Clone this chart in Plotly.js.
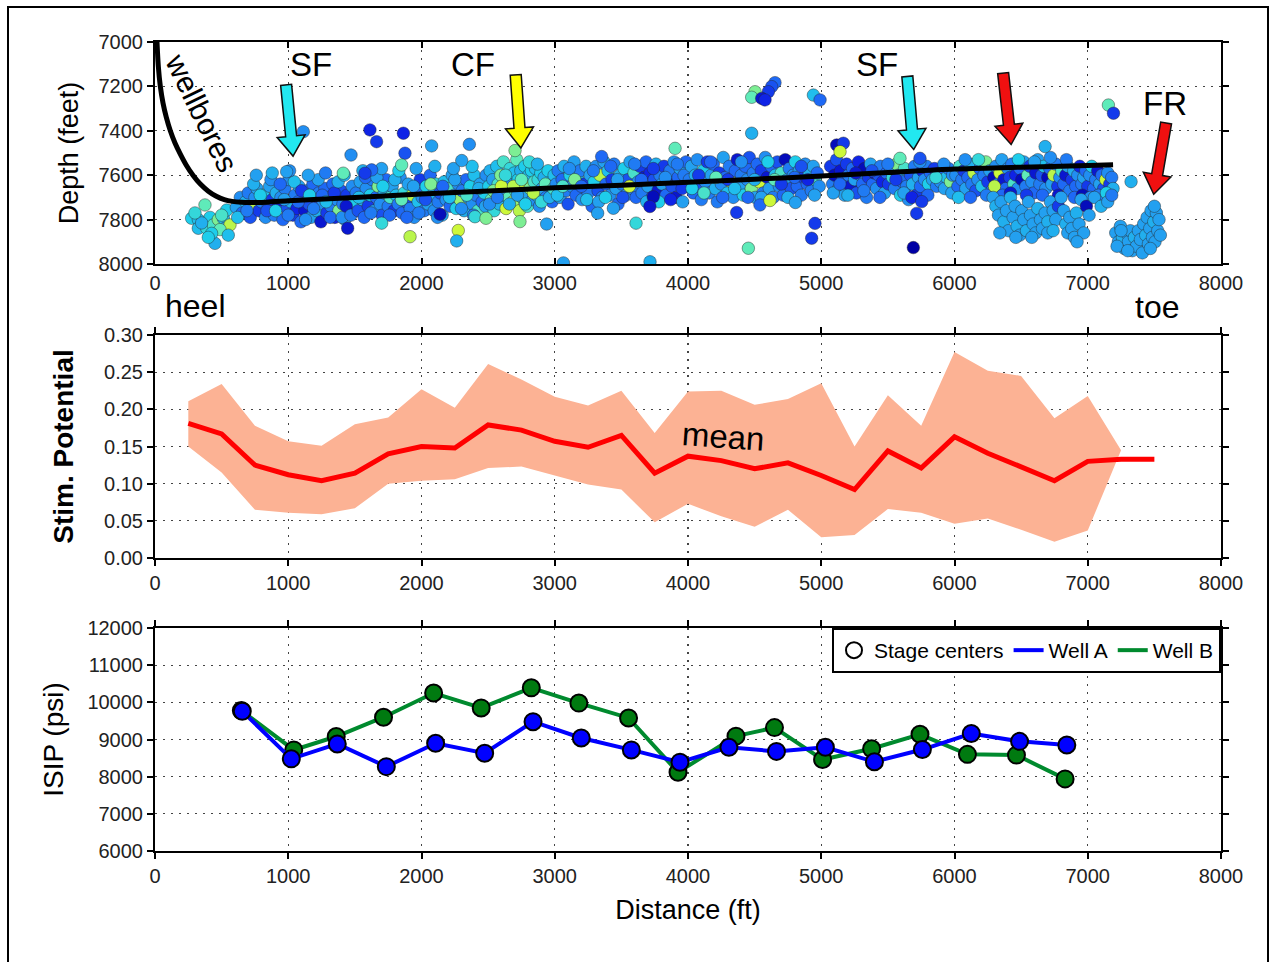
<!DOCTYPE html>
<html><head><meta charset="utf-8">
<script src="https://cdn.plot.ly/plotly-3.0.1.min.js"></script>
<style>html,body{margin:0;padding:0;background:#fff}#chart{width:1276px;height:962px}</style>
</head><body><div id="chart"></div>
<script>
// ---------- Top panel: microseismic events [distance ft, depth ft, colour value] ----------
const heelEvents = [[275,7794,.6],[325,7800,.55],[375,7734,.75],[413,7790,.6],[325,7839,.55],[388,7839,.65],[438,7824,.7],[475,7800,.8],[513,7794,.55],[525,7839,.45],[450,7907,.5],[563,7824,.9],[488,7845,.75],[425,7862,.6],[538,7757,.6],[500,7780,.7],[350,7815,.5],[400,7880,.6],[550,7870,.55],[300,7770,.65]];
const band1Events = [[610,7745,.45],[640,7700,.4],[655,7770,.3],[680,7720,.5],[700,7680,.35],[715,7790,.25],[730,7740,.9],[750,7700,.4],[765,7660,.45],[780,7760,.2],[800,7720,.35],[815,7690,.55],[830,7790,.4],[850,7740,.3],[860,7650,.45],[880,7710,.2],[895,7780,.35],[910,7680,.5],[925,7740,.1],[945,7700,.4],[960,7800,.3],[975,7660,.35],[990,7750,.25],[1005,7620,.4],[1020,7720,.5],[1035,7780,.2],[1050,7690,.35],[1065,7750,.15],[1080,7650,.45],[1095,7810,.3],[1110,7710,.4],[1125,7760,.1],[1140,7670,.35],[1155,7730,.25],[1170,7790,.45],[1185,7640,.3],[1200,7700,.2],[1215,7760,.5],[1230,7680,.35],[1245,7810,.1],[1260,7730,.4],[1275,7660,.3],[1290,7770,.2],[1305,7700,.45],[1320,7740,.35],[1335,7640,.3],[1350,7790,.15],[1365,7710,.4],[1380,7760,.8],[1395,7670,.25],[1410,7730,.35],[1425,7800,.45],[1440,7690,.2],[1460,7750,.3],[1480,7650,.4],[1495,7720,.6],
 [620,7790,.55],[690,7760,.35],[740,7640,.5],[790,7690,.6],[840,7760,.25],[870,7620,.4],[905,7760,.6],[940,7640,.3],[970,7710,.45],[1000,7780,.35],[1045,7630,.55],[1075,7720,.3],[1100,7670,.2],[1130,7800,.4],[1160,7690,.6],[1190,7750,.35],[1225,7620,.45],[1255,7690,.3],[1285,7720,.55],[1315,7790,.3],[1345,7680,.2],[1375,7630,.5],[1405,7790,.4],[1435,7740,.1],[1470,7780,.35],
 [760,7600,.45],[880,7590,.5],[1010,7580,.4],[1150,7600,.45],[1280,7590,.35],[1420,7600,.5]];
const band2Events = [[1510,7680,.35],[1525,7760,.25],[1540,7630,.45],[1555,7710,.5],[1570,7790,.3],[1585,7660,.4],[1600,7740,.2],[1615,7690,.6],[1630,7620,.35],[1645,7760,.45],[1660,7700,.3],[1675,7650,.8],[1690,7730,.4],[1705,7780,.25],[1720,7680,.5],[1735,7620,.3],[1750,7740,.35],[1765,7700,.7],[1780,7650,.45],[1795,7760,.2],[1810,7690,.55],[1825,7730,.35],[1840,7610,.4],[1855,7770,.3],[1870,7680,.65],[1885,7720,.25],[1900,7640,.45],[1915,7750,.35],[1930,7690,.9],[1945,7790,.4],[1960,7660,.3],[1975,7720,.55],[1990,7620,.2],[2005,7700,.4],[2020,7760,.35],[2035,7650,.6],[2050,7730,.45],[2065,7600,.3],[2080,7690,.5],[2095,7760,.4],[2110,7640,.65],[2125,7720,.35],[2140,7680,.25],[2155,7780,.45],[2170,7630,.55],[2185,7710,.4],[2200,7660,.7],[2215,7740,.3],[2230,7600,.45],[2245,7690,.35],[2260,7750,.6],[2275,7640,.4],[2290,7710,.85],[2305,7670,.35],[2320,7760,.5],[2335,7620,.3],[2350,7700,.45],[2365,7650,.6],[2380,7730,.4],[2395,7600,.55],[2410,7690,.35],[2425,7760,.7],[2440,7640,.45],[2455,7720,.3],[2470,7680,.6],[2485,7600,.4],
 [1530,7700,.55],[1580,7610,.3],[1620,7770,.35],[1665,7610,.45],[1710,7650,.6],[1760,7780,.3],[1800,7620,.5],[1850,7710,.75],[1890,7790,.3],[1940,7650,.45],[1980,7770,.35],[2030,7710,.25],[2070,7640,.8],[2120,7790,.4],[2160,7650,.3],[2210,7700,.55],[2250,7620,.45],[2300,7750,.4],[2340,7690,.7],[2390,7780,.35],[2430,7660,.5],[2480,7740,.45],
 [1560,7580,.5],[1700,7570,.45],[1830,7580,.6],[1960,7570,.45],[2100,7560,.5],[2240,7570,.45],[2380,7560,.55]];
const cfEvents = [[2505,7650,.6],[2515,7580,.5],[2525,7710,.75],[2535,7620,.45],[2545,7760,.65],[2555,7680,.9],[2565,7560,.55],[2575,7640,.7],[2585,7730,.5],[2595,7600,.8],[2605,7690,.6],[2615,7540,.7],[2625,7660,.45],[2635,7750,.95],[2645,7610,.6],[2655,7700,.75],[2665,7570,.65],[2675,7640,.4],[2685,7720,.85],[2695,7590,.55],[2705,7670,.7],[2715,7530,.75],[2725,7620,.6],[2735,7760,.9],[2745,7580,.5],[2755,7700,.65],[2765,7640,.95],[2775,7560,.6],[2785,7680,.45],[2795,7740,.7],[2805,7600,.55],[2815,7660,.8],[2825,7580,.6],[2835,7710,.4],[2845,7630,.7],[2855,7570,.55],[2865,7690,.5],[2875,7620,.65],[2885,7740,.4],[2895,7590,.6],[2905,7660,.45],[2920,7610,.5],[2935,7700,.35],[2950,7580,.6],[2965,7650,.4],[2980,7720,.3],[2995,7600,.55],
 [2510,7730,.4],[2540,7670,.8],[2570,7700,.35],[2600,7650,.95],[2630,7600,.65],[2660,7730,.5],[2690,7650,.9],[2720,7690,.45],[2750,7620,.75],[2780,7730,.6],[2810,7540,.65],[2840,7680,.9],[2870,7550,.5],[2900,7720,.65],[2930,7640,.75],[2960,7700,.5],[2990,7660,.7]];
const band3Events = [[3010,7640,.4],[3025,7580,.35],[3040,7700,.45],[3055,7620,.3],[3070,7560,.5],[3085,7670,.35],[3100,7730,.25],[3115,7600,.6],[3130,7650,.4],[3145,7540,.45],[3160,7690,.3],[3175,7620,.55],[3190,7580,.35],[3205,7710,.4],[3220,7640,.2],[3235,7560,.5],[3250,7680,.35],[3265,7600,.45],[3280,7740,.3],[3295,7630,.6],[3310,7560,.4],[3325,7670,.25],[3340,7600,.9],[3355,7700,.35],[3370,7540,.45],[3385,7640,.3],[3400,7580,.55],[3415,7690,.4],[3430,7620,.2],[3445,7550,.35],[3460,7660,.45],[3475,7730,.3],[3490,7600,.5],[3505,7640,.35],[3520,7570,.6],[3535,7690,.4],[3550,7620,.25],[3565,7540,.45],[3580,7660,.35],[3595,7590,.7],[3610,7700,.3],[3625,7630,.4],[3640,7560,.2],[3655,7680,.35],[3670,7610,.1],[3685,7540,.3],[3700,7650,.45],[3715,7590,.15],[3730,7700,.35],[3745,7620,.25],[3760,7550,.5],[3775,7670,.1],[3790,7600,.35],[3805,7640,.45],[3820,7560,.2],[3835,7690,.3],[3850,7620,.05],[3865,7580,.35],[3880,7650,.25],[3895,7540,.4],[3910,7700,.1],[3925,7610,.3],[3940,7570,.45],[3955,7660,.2],[3970,7600,.35],[3985,7540,.3],
 [3020,7690,.55],[3060,7650,.7],[3110,7570,.4],[3150,7620,.8],[3200,7650,.3],[3240,7710,.55],[3290,7580,.35],[3330,7720,.45],[3380,7700,.6],[3420,7560,.3],[3470,7620,.45],[3510,7700,.25],[3560,7650,.95],[3600,7550,.35],[3650,7620,.3],[3690,7720,.5],[3740,7570,.2],[3780,7720,.6],[3830,7610,.4],[3870,7710,.15],[3920,7550,.35],[3960,7720,.45]];
const band4Events = [[4010,7620,.35],[4025,7560,.45],[4040,7680,.3],[4055,7600,.5],[4070,7530,.4],[4085,7650,.25],[4100,7710,.35],[4115,7580,.6],[4130,7630,.4],[4145,7540,.2],[4160,7680,.35],[4175,7600,.45],[4190,7550,.3],[4205,7660,.5],[4220,7720,.35],[4235,7590,.2],[4250,7640,.4],[4265,7520,.45],[4280,7610,.3],[4295,7680,.55],[4310,7560,.35],[4325,7630,.9],[4340,7700,.4],[4355,7580,.3],[4370,7530,.1],[4385,7650,.45],[4400,7600,.35],[4415,7690,.6],[4430,7560,.3],[4445,7620,.4],[4460,7520,.25],[4475,7660,.8],[4490,7590,.35],[4505,7700,.45],[4520,7550,.3],[4535,7630,.95],[4550,7580,.2],[4565,7680,.35],[4580,7520,.4],[4595,7610,.1],[4610,7660,.45],[4625,7560,.3],[4640,7700,.35],[4655,7600,.55],[4670,7540,.25],[4685,7650,.4],[4700,7590,.7],[4715,7690,.3],[4730,7530,.05],[4745,7620,.45],[4760,7570,.35],[4775,7660,.25],[4790,7600,.4],[4805,7540,.6],[4820,7650,.3],[4835,7580,.45],[4850,7690,.35],[4865,7610,.2],[4880,7550,.4],[4895,7640,.3],[4910,7590,.5],[4925,7670,.35],[4940,7560,.45],[4955,7620,.7],[4970,7590,.3],[4985,7650,.4],
 [4030,7660,.6],[4080,7600,.2],[4120,7680,.7],[4170,7540,.3],[4210,7610,.75],[4260,7700,.3],[4300,7620,.2],[4350,7660,.55],[4400,7540,.4],[4450,7700,.3],[4500,7620,.5],[4550,7700,.45],[4600,7540,.6],[4650,7620,.75],[4700,7640,.2],[4750,7700,.5],[4800,7610,.3],[4850,7560,.25],[4900,7620,.15],[4950,7690,.45]];
const band5Events = [[5070,7560,.2],[5085,7640,.35],[5100,7600,.05],[5115,7530,.25],[5130,7660,.4],[5145,7580,.1],[5160,7620,.3],[5175,7690,.45],[5190,7550,.2],[5205,7600,.35],[5220,7650,.1],[5235,7570,.3],[5250,7620,.45],[5265,7680,.25],[5280,7540,.15],[5295,7600,.4],[5310,7640,.3],[5325,7570,.05],[5340,7700,.35],[5355,7610,.2],[5370,7550,.45],[5385,7640,.3],[5400,7590,.1],[5415,7660,.4],[5430,7600,.25],[5445,7560,.35],[5460,7630,.15],[5475,7680,.45],[5490,7590,.3],[5505,7640,.2],[5520,7570,.4],[5535,7610,.65],[5550,7660,.35],[5565,7550,.8],[5580,7600,.45],[5595,7690,.6],[5610,7630,.3],[5625,7570,.7],[5640,7650,.35],[5655,7710,.4],[5670,7600,.25],[5685,7640,.5],[5700,7560,.35],[5715,7690,.2],[5730,7610,.45],[5745,7650,.3],[5760,7580,.15],[5775,7620,.4],[5790,7560,.35],[5805,7640,.6],[5820,7590,.3],[5835,7620,.45],[5850,7570,.2],[5865,7650,.35],[5880,7600,.5],[5895,7630,.4],[5910,7580,.3],[5925,7660,.45],[5940,7610,.55],[5955,7570,.35],[5970,7630,.8],[5985,7600,.4],
 [5090,7680,.45],[5140,7640,.3],[5200,7690,.5],[5260,7590,.1],[5320,7670,.35],[5380,7580,.25],[5440,7700,.3],[5500,7550,.35],[5560,7620,.2],[5620,7680,.45],[5680,7700,.15],[5740,7540,.4],[5800,7690,.3],[5860,7610,.65],[5920,7550,.4],[5980,7680,.45]];
const band6Events = [[6010,7600,.4],[6025,7650,.3],[6040,7560,.7],[6055,7620,.35],[6070,7580,.2],[6085,7660,.45],[6100,7610,.3],[6115,7550,.5],[6130,7640,.35],[6145,7590,.9],[6160,7670,.25],[6175,7620,.4],[6190,7570,.3],[6205,7650,.55],[6220,7600,.35],[6235,7540,.8],[6250,7630,.2],[6265,7580,.45],[6280,7670,.3],[6295,7610,.05],[6310,7560,.4],[6325,7640,.35],[6340,7590,.95],[6355,7530,.45],[6370,7620,.1],[6385,7660,.3],[6400,7570,.4],[6415,7610,.2],[6430,7550,.35],[6445,7640,.7],[6460,7600,.15],[6475,7660,.4],[6490,7570,.3],[6505,7620,.05],[6520,7540,.45],[6535,7650,.35],[6550,7600,.75],[6565,7560,.2],[6580,7630,.4],[6595,7680,.3],[6610,7590,.1],[6625,7530,.45],[6640,7640,.35],[6655,7600,.25],[6670,7560,.55],[6685,7660,.4],[6700,7610,.05],[6715,7570,.3],[6730,7640,.45],[6745,7600,.9],[6760,7550,.35],[6775,7650,.2],[6790,7610,.4],[6805,7580,.7],[6820,7640,.3],[6835,7600,.1],[6850,7560,.45],[6865,7670,.35],[6880,7620,.2],[6895,7580,.5],[6910,7650,.3],[6925,7600,.4],[6940,7560,.15],[6955,7640,.35],[6970,7610,.45],[6985,7580,.3],[7000,7650,.2],[7015,7600,.4],[7030,7560,.6],[7045,7660,.3],[7060,7620,.35],[7075,7580,.1],[7090,7640,.45],[7105,7600,.3],[7120,7660,.25],[7135,7620,.95],[7150,7590,.4],[7165,7640,.2],[7180,7610,.35],[7190,7660,.5],
 [6030,7700,.55],[6080,7530,.4],[6120,7700,.3],[6180,7530,.65],[6240,7690,.35],[6300,7650,.9],[6360,7690,.3],[6420,7680,.1],[6480,7530,.6],[6540,7690,.2],[6600,7540,.45],[6660,7690,.3],[6720,7520,.4],[6780,7690,.1],[6840,7530,.35],[6900,7700,.3],[6960,7690,.05],[7020,7700,.4],[7080,7690,.35],[7140,7680,.6]];
const deepEvents = [[6290,7700,.45],[6310,7740,.5],[6330,7780,.45],[6350,7720,.45],[6370,7810,.5],[6390,7760,.45],[6405,7850,.45],[6420,7700,.5],[6440,7790,.45],[6455,7740,.45],[6470,7830,.5],[6490,7870,.45],[6505,7760,.45],[6520,7800,.45],[6540,7850,.5],[6555,7720,.45],[6570,7780,.45],[6590,7820,.45],[6610,7860,.45],[6625,7750,.5],[6645,7800,.45],[6660,7840,.45],[6680,7770,.45],[6700,7810,.5],[6720,7720,.45],[6740,7760,.45],[6760,7800,.45],[6780,7740,.2],[6800,7700,.45],[6820,7760,.45],[6835,7820,.5],[6850,7860,.45],[6865,7790,.45],[6880,7840,.45],[6900,7880,.45],[6915,7770,.5],[6935,7820,.45],[6950,7710,.45],[6970,7860,.45],[6990,7740,.05],[7010,7780,.45],[7050,7700,.45],[7100,7740,.5],[7150,7720,.45],[7180,7690,.35],
 [6340,7860,.45],[6460,7880,.45],[6580,7880,.45],[6700,7860,.45],[6740,7850,.5],[6920,7900,.45]];
const toeEvents = [[7210,7860,.45],[7230,7900,.45],[7245,7830,.45],[7260,7880,.5],[7275,7930,.45],[7290,7860,.45],[7305,7900,.45],[7320,7850,.45],[7335,7940,.45],[7350,7880,.5],[7365,7920,.45],[7380,7850,.45],[7395,7890,.45],[7410,7950,.45],[7420,7820,.45],[7435,7870,.5],[7445,7790,.45],[7455,7910,.45],[7465,7840,.45],[7475,7760,.45],[7485,7880,.45],[7495,7810,.5],[7505,7900,.45],[7515,7770,.45],[7525,7850,.45],[7535,7800,.45],[7545,7870,.45],[7500,7740,.45],[7470,7930,.45],[7220,7920,.45],[7300,7940,.45],[7250,7850,.45]];
const outlierEvents = [[1113,7404,.4],[988,7584,.45],[1613,7396,.15],[1663,7449,.2],[1864,7411,.15],[1876,7501,.25],[1471,7509,.4],[1446,7839,.1],[1626,7576,.3],[1851,7554,.75],[1413,7591,.75],[1576,7591,.2],[1914,7877,.9],[1701,7816,.65],[2076,7468,.45],[2359,7461,.4],[2302,7534,.45],[2276,7849,.95],[2264,7896,.5],[2401,7787,.65],[2484,7794,.8],[2139,7776,.05],[2702,7489,.8],[2739,7809,.8],[2939,7820,.45],[3065,7995,.45],[3715,7990,.5],[3440,7749,.45],[3322,7771,.45],[3610,7816,.65],[3352,7516,.3],[3903,7479,.75],[3739,7697,.05],[3714,7741,.1],[4653,7183,.3],[4628,7201,.25],[4603,7224,.2],[4503,7224,.8],[4478,7249,.75],[4553,7254,.1],[4578,7261,.15],[4941,7239,.55],[4991,7261,.3],[4478,7411,.5],[4453,7929,.75],[4953,7817,.2],[4928,7884,.2],[4365,7768,.2],[4540,7734,.3],[4806,7723,.45],[4615,7714,.95],[5116,7464,.05],[5166,7456,.2],[5141,7494,.95],[5716,7772,.2],[5691,7926,0],[5754,7719,.2],[5741,7524,.25],[5591,7524,.75],[7155,7284,.75],[7193,7321,.2],[7325,7629,.5],[6680,7471,.5]];

// wellbore trajectory
const wellX = [15,25,40,60,85,115,150,190,235,285,340,400,460,520,580,650,720,800,1000,1500,2000,2500,3000,3500,4000,4500,5000,5500,6000,6500,7000,7190];
const wellZ = [7000,7110,7200,7275,7340,7400,7455,7505,7555,7600,7640,7672,7695,7710,7718,7722,7723,7723,7715,7700,7685,7671,7657,7645,7632,7618,7604,7588,7572,7564,7556,7553];

// arrows: [tail distance, tail depth, tip distance, tip depth, colour]
const arrowDefs = [[984,7193,1036,7514,'#22e8f0'],[2707,7148,2746,7477,'#ffff00'],[5646,7155,5694,7484,'#22e8f0'],[6365,7140,6425,7462,'#f01010'],[7588,7365,7495,7686,'#f01010']];

// ---------- Middle panel: stimulation potential ----------
const spX = [250,500,750,1000,1250,1500,1750,2000,2250,2500,2750,3000,3250,3500,3750,4000,4250,4500,4750,5000,5250,5500,5750,6000,6250,6500,6750,7000,7250,7500];
const spMean = [0.181,0.167,0.125,0.112,0.104,0.114,0.140,0.150,0.148,0.179,0.172,0.157,0.149,0.165,0.114,0.137,0.131,0.120,0.128,0.111,0.092,0.144,0.121,0.163,0.141,0.123,0.104,0.130,0.133,0.133];
const bandX = [250,500,750,1000,1250,1500,1750,2000,2250,2500,2750,3000,3250,3500,3750,4000,4250,4500,4750,5000,5250,5500,5750,6000,6250,6500,6750,7000,7250];
const spUpper = [.211,.234,.178,.157,.151,.180,.189,.227,.202,.261,.240,.217,.205,.225,.168,.224,.225,.206,.214,.235,.150,.219,.178,.277,.252,.245,.188,.218,.145];
const spLower = [.150,.115,.065,.061,.059,.067,.100,.104,.106,.121,.123,.111,.099,.092,.048,.073,.056,.042,.065,.028,.031,.066,.061,.046,.053,.038,.022,.037,.145];

// ---------- Bottom panel: ISIP ----------
const wellAX = [655,1023,1368,1736,2106,2474,2837,3199,3575,3940,4307,4664,5031,5399,5759,6126,6488,6843];
const wellAISIP = [9760,8480,8880,8270,8900,8630,9480,9040,8720,8390,8790,8680,8790,8400,8730,9160,8950,8850];
const wellBX = [648,1041,1360,1715,2091,2448,2824,3181,3554,3925,4360,4649,5010,5378,5741,6097,6465,6830];
const wellBISIP = [9780,8720,9080,9600,10250,9850,10390,9980,9580,8120,9090,9320,8460,8750,9140,8600,8580,7940];

// ---------- build ----------
const FONT = 'Liberation Sans, Arial, sans-serif';
const allEvents = [].concat(heelEvents, band1Events, band2Events, cfEvents, band3Events, band4Events, band5Events, band6Events, deepEvents, toeEvents, outlierEvents);
const evColorscale = [[0,'rgb(0,0,165)'],[0.15,'rgb(15,35,230)'],[0.3,'rgb(30,105,245)'],[0.45,'rgb(35,160,240)'],[0.6,'rgb(30,205,235)'],[0.75,'rgb(95,235,185)'],[0.9,'rgb(185,245,75)'],[1,'rgb(225,250,40)']];

const traces = [
  {type:'scatter', mode:'markers', x: allEvents.map(e=>e[0]), y: allEvents.map(e=>e[1]), xaxis:'x', yaxis:'y', showlegend:false, hoverinfo:'skip',
   marker:{size:12.5, color: allEvents.map(e=>e[2]), colorscale: evColorscale, cmin:0, cmax:1, showscale:false, line:{color:'rgba(40,40,40,0.75)', width:0.6}}},
  {type:'scatter', mode:'lines', x: wellX, y: wellZ, xaxis:'x', yaxis:'y', showlegend:false, line:{color:'#000', width:5, shape:'spline', smoothing:0.8}},
  {type:'scatter', mode:'lines', x: bandX, y: spLower, xaxis:'x2', yaxis:'y2', showlegend:false, line:{width:0, color:'rgba(0,0,0,0)'}},
  {type:'scatter', mode:'lines', x: bandX, y: spUpper, xaxis:'x2', yaxis:'y2', showlegend:false, fill:'tonexty', fillcolor:'rgb(252,178,148)', line:{width:0, color:'rgba(0,0,0,0)'}},
  {type:'scatter', mode:'lines', x: spX, y: spMean, xaxis:'x2', yaxis:'y2', showlegend:false, line:{color:'#ff0000', width:5}},
  {type:'scatter', mode:'markers', x:[null], y:[null], xaxis:'x3', yaxis:'y3', name:'Stage centers', legendrank:1,
   marker:{symbol:'circle-open', size:17, color:'#000', line:{width:2, color:'#000'}}},
  {type:'scatter', mode:'lines', x: wellBX, y: wellBISIP, xaxis:'x3', yaxis:'y3', name:'Well B', legendrank:3, line:{color:'#008a2e', width:4}},
  {type:'scatter', mode:'markers', x: wellBX, y: wellBISIP, xaxis:'x3', yaxis:'y3', showlegend:false, marker:{size:17, color:'#007a10', line:{color:'#000', width:2}}},
  {type:'scatter', mode:'lines', x: wellAX, y: wellAISIP, xaxis:'x3', yaxis:'y3', name:'Well A', legendrank:2, line:{color:'#0000ff', width:4}},
  {type:'scatter', mode:'markers', x: wellAX, y: wellAISIP, xaxis:'x3', yaxis:'y3', showlegend:false, marker:{size:17, color:'#0000ff', line:{color:'#000', width:2}}}
];

// plot geometry (px)
const W = 1276, H = 962, ML = 155, MR = 55, MT = 42, MB = 111;
const PW = W - ML - MR, PH = H - MT - MB;
const pyToPaper = py => (H - MB - py) / PH;
const pxToPaper = px => (px - ML) / PW;

function axisBase(extra) {
  return Object.assign({
    showline:true, linecolor:'#000', linewidth:2, mirror:'ticks',
    ticks:'outside', ticklen:6, tickwidth:2, tickcolor:'#000',
    showgrid:true, gridcolor:'#444', gridwidth:1.3, griddash:'2px,6px',
    zeroline:false, tickfont:{family:FONT, size:20, color:'#222'}
  }, extra);
}
const xCommon = {range:[0,8000], tick0:0, dtick:1000, tickformat:'d'};

// arrow shapes (top panel, converted from pixel geometry)
const pxPerFt = PW / 8000, pxPerDepth = (264 - 42) / 1000;
function arrowPath(a) {
  const x0 = a[0]*pxPerFt, y0 = a[1]*pxPerDepth, x1 = a[2]*pxPerFt, y1 = a[3]*pxPerDepth;
  const dx = x1-x0, dy = y1-y0, L = Math.hypot(dx,dy), ux = dx/L, uy = dy/L, nx = -uy, ny = ux;
  const sw = 5.5, hw = 14, hl = 20;
  const bx = x1-ux*hl, by = y1-uy*hl;
  const pts = [[x0+nx*sw,y0+ny*sw],[bx+nx*sw,by+ny*sw],[bx+nx*hw,by+ny*hw],[x1,y1],[bx-nx*hw,by-ny*hw],[bx-nx*sw,by-ny*sw],[x0-nx*sw,y0-ny*sw]];
  return 'M' + pts.map(p => (p[0]/pxPerFt).toFixed(1) + ',' + (p[1]/pxPerDepth).toFixed(1)).join(' L') + ' Z';
}
const shapes = arrowDefs.map(a => ({type:'path', xref:'x', yref:'y', path: arrowPath(a), fillcolor:a[4], line:{color:'#111', width:1.5}, layer:'above'}));
shapes.push({type:'rect', xref:'paper', yref:'paper', x0:pxToPaper(8), x1:pxToPaper(1268), y0:pyToPaper(975), y1:pyToPaper(7), line:{color:'#000', width:2}, fillcolor:'rgba(0,0,0,0)'});

const bigFont = {family:FONT, size:33, color:'#000'};
const annotations = [
  {xref:'x', yref:'y', x:1174, y:7100, text:'SF', showarrow:false, font:bigFont},
  {xref:'x', yref:'y', x:2383, y:7100, text:'CF', showarrow:false, font:bigFont},
  {xref:'x', yref:'y', x:5421, y:7100, text:'SF', showarrow:false, font:bigFont},
  {xref:'x', yref:'y', x:7582, y:7275, text:'FR', showarrow:false, font:bigFont},
  {xref:'x', yref:'y', x:355, y:7320, text:'wellbores', textangle:64, showarrow:false, font:{family:FONT, size:30, color:'#000'}},
  {xref:'paper', yref:'paper', x:pxToPaper(163), y:pyToPaper(306), xanchor:'left', yanchor:'middle', text:'heel', showarrow:false, font:{family:FONT, size:32, color:'#000'}},
  {xref:'paper', yref:'paper', x:pxToPaper(1157), y:pyToPaper(307), xanchor:'center', yanchor:'middle', text:'toe', showarrow:false, font:{family:FONT, size:32, color:'#000'}},
  {xref:'x2', yref:'y2', x:4263, y:0.163, text:'mean', textangle:4, showarrow:false, font:{family:FONT, size:33, color:'#000'}}
];

const layout = {
  width: W, height: H, margin:{l:ML, r:MR, t:MT, b:MB},
  paper_bgcolor:'#fff', plot_bgcolor:'#fff', font:{family:FONT},
  showlegend:true,
  legend:{orientation:'h', traceorder:'normal', x:1, xanchor:'right', y:pyToPaper(628), yanchor:'top', bgcolor:'#fff', bordercolor:'#000', borderwidth:2,
          font:{family:FONT, size:21, color:'#000'}, itemwidth:30, tracegroupgap:0},
  xaxis: axisBase(Object.assign({anchor:'y', domain:[0,1], ticks:'inside'}, xCommon)),
  yaxis: axisBase({anchor:'x', domain:[pyToPaper(264), pyToPaper(42)], range:[8000,7000], tick0:7000, dtick:200, tickformat:'d',
          title:{text:'Depth (feet)', font:{family:FONT, size:27, color:'#000'}, standoff:12}}),
  xaxis2: axisBase(Object.assign({anchor:'y2', domain:[0,1]}, xCommon)),
  yaxis2: axisBase({anchor:'x2', domain:[pyToPaper(558), pyToPaper(335)], range:[0,0.30], tick0:0, dtick:0.05, tickformat:'.2f',
          title:{text:'<b>Stim. Potential</b>', font:{family:FONT, size:28, color:'#000'}, standoff:22}}),
  xaxis3: axisBase(Object.assign({anchor:'y3', domain:[0,1], title:{text:'Distance (ft)', font:{family:FONT, size:27, color:'#000'}, standoff:14}}, xCommon)),
  yaxis3: axisBase({anchor:'x3', domain:[0, pyToPaper(628)], range:[6000,12000], tick0:6000, dtick:1000, tickformat:'d',
          title:{text:'ISIP (psi)', font:{family:FONT, size:28, color:'#000'}, standoff:16}}),
  shapes: shapes, annotations: annotations
};

Plotly.newPlot('chart', traces, layout, {displayModeBar:false, staticPlot:true});
</script></body></html>
